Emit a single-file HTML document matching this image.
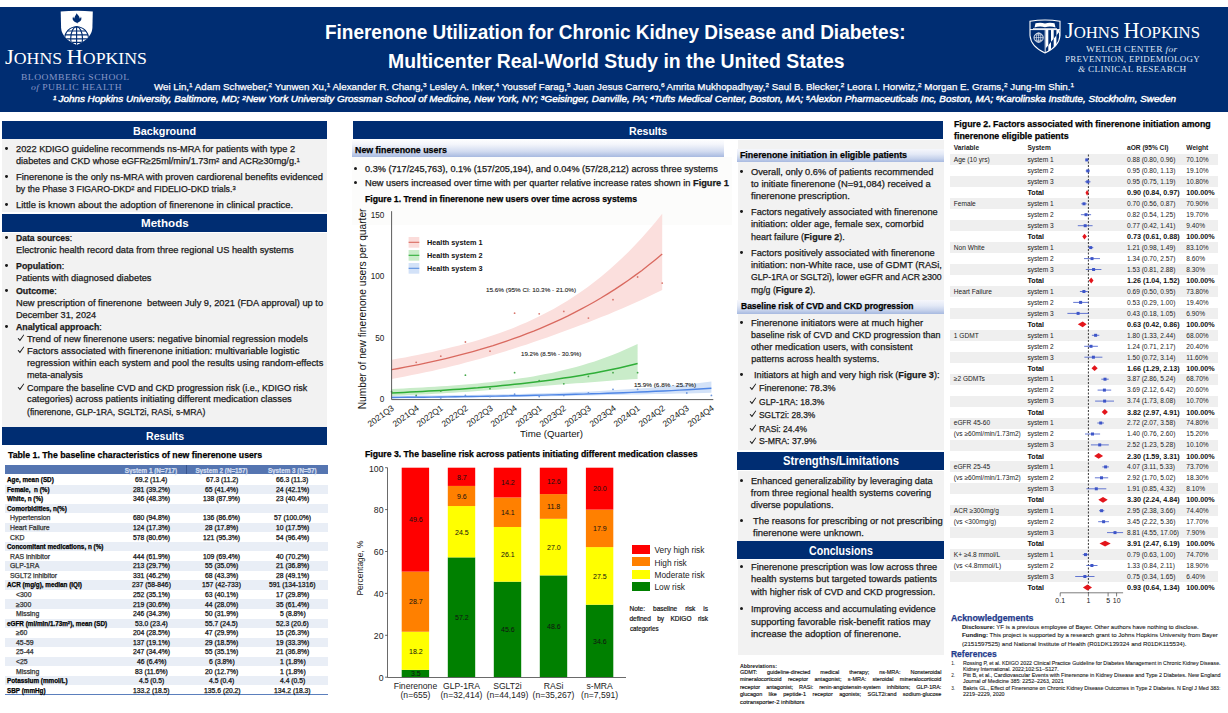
<!DOCTYPE html>
<html lang="en"><head><meta charset="utf-8"><title>Finerenone Utilization Poster</title>
<style>
html,body{margin:0;padding:0;background:#fff;}
#p{position:relative;width:1228px;height:713px;overflow:hidden;background:#fff;font-family:"Liberation Sans", sans-serif;color:#1a1a1a;}
#p>div,#p>svg{position:absolute;}
.t{white-space:nowrap;line-height:1;transform-origin:0 0;-webkit-text-stroke:0.25px;}
.s{font-family:"Liberation Serif", serif;-webkit-text-stroke:0;}
.n{-webkit-text-stroke:0;}
sup{font-size:66%;line-height:0;vertical-align:baseline;position:relative;top:-0.45em;}
b{font-weight:bold;}
</style></head><body>
<div id="p">
<div style="left:0.0px;top:7.0px;width:1228.0px;height:104.5px;background:#002d72;"></div>
<svg style="left:59px;top:9px" width="36" height="38" viewBox="0 0 36 38">
<defs><clipPath id="shl"><path d="M1.7 2.6 Q17.7 0.9 33.8 2.6 L33.4 19 Q32.6 29.5 17.7 36 Q2.9 29.5 2.1 19 Z"/></clipPath></defs>
<path d="M1.7 2.6 Q17.7 0.9 33.8 2.6 L33.4 19 Q32.6 29.5 17.7 36 Q2.9 29.5 2.1 19 Z" fill="#fff"/>
<g clip-path="url(#shl)" fill="none" stroke="#002d72" stroke-width="1.15">
<circle cx="17.6" cy="29.6" r="11.9"/>
<ellipse cx="17.6" cy="29.6" rx="5.9" ry="11.9"/>
<path d="M17.6 17.5 V37"/>
<path d="M8.4 22 H26.8 M6.2 25.8 H29 M5.6 29.8 H29.600 M6.4 33.4 H28.800"/>
</g>
<path d="M17.6 4.2 C18.6 6 20.9 7.2 20.6 9.6 C21.5 9 21.9 8.2 21.9 7.4 C23 9.4 22.4 12 20 13 C19.3 13.3 18.6 13.3 18.3 14.6 C17.9 13.4 16.9 13.3 15.9 12.9 C13.6 12 13 9.6 14.2 7.6 C14.3 8.6 14.7 9.2 15.4 9.6 C15.2 7.4 16.9 6.3 17.6 4.2 Z" fill="#002d72"/>
</svg>
<svg style="left:1027px;top:18px" width="36" height="38" viewBox="0 0 36 38">
<defs><clipPath id="shr"><path d="M3 3.2 Q18 0.8 33 3.2 L33 17.5 Q32.2 28.5 18 35 Q3.8 28.5 3 17.5 Z"/></clipPath></defs>
<path d="M3 3.2 Q18 0.8 33 3.2 L33 17.5 Q32.2 28.5 18 35 Q3.8 28.5 3 17.5 Z" fill="#002d72" stroke="#fff" stroke-width="1.1"/>
<g clip-path="url(#shr)">
<path d="M3 11.6 H33" stroke="#fff" stroke-width="1"/>
<path d="M7.5 9.6 Q12.5 7.6 18 9.2 Q23.5 7.6 28.5 9.6 L27.5 5.2 Q22.5 4 18 5.4 Q13.500 4 8.5 5.2 Z" fill="#fff"/>
<path d="M6 10.6 H30" stroke="#fff" stroke-width="0.8"/>
<circle cx="11.6" cy="19.6" r="4.6" fill="none" stroke="#fff" stroke-width="0.9"/>
<path d="M7 19.6 H16.2 M11.6 15 V24.2 M8 17 H15.2 M8 22.2 H15.2" stroke="#fff" stroke-width="0.6"/>
<ellipse cx="11.6" cy="19.6" rx="2.2" ry="4.6" fill="none" stroke="#fff" stroke-width="0.6"/>
<path d="M18.2 11.6 V35" stroke="#fff" stroke-width="0.9"/>
<clipPath id="fa"><path d="M18.2 11.6 H33 V13 L18.2 31 Z"/></clipPath><clipPath id="fb"><path d="M33 13 V36 H18.2 V31 Z"/></clipPath><g fill="#fff"><g clip-path="url(#fa)"><path d="M18.7 11 h2.6 v26 h-2.6z M24 11 h2.700 v26 h-2.700z M29.4 11 h2.700 v26 h-2.700z"/></g><g clip-path="url(#fb)"><path d="M21.3 11 h2.700 v26 h-2.700z M26.7 11 h2.700 v26 h-2.700z M32.1 11 h2 v26 h-2z"/></g></g>
</g>
</svg>
<div style="left:2.2px;top:139.4px;width:324.5px;height:72.8px;background:#f2f2f2;"></div>
<div style="left:2.2px;top:232.6px;width:324.5px;height:194.6px;background:#f2f2f2;"></div>
<div style="left:2.2px;top:121.1px;width:324.5px;height:17.5px;background:#002d72;"></div>
<div style="left:2.2px;top:214.0px;width:324.5px;height:17.7px;background:#002d72;"></div>
<div style="left:2.2px;top:427.0px;width:324.5px;height:17.9px;background:#002d72;"></div>
<div style="left:5.0px;top:147.1px;width:2.9px;height:2.9px;border-radius:50%;background:#1a1a1a"></div>
<div style="left:5.0px;top:174.8px;width:2.9px;height:2.9px;border-radius:50%;background:#1a1a1a"></div>
<div style="left:5.0px;top:203.2px;width:2.9px;height:2.9px;border-radius:50%;background:#1a1a1a"></div>
<div style="left:5.0px;top:236.1px;width:2.9px;height:2.9px;border-radius:50%;background:#1a1a1a"></div>
<div style="left:5.0px;top:264.1px;width:2.9px;height:2.9px;border-radius:50%;background:#1a1a1a"></div>
<div style="left:5.0px;top:288.9px;width:2.9px;height:2.9px;border-radius:50%;background:#1a1a1a"></div>
<div style="left:5.0px;top:324.9px;width:2.9px;height:2.9px;border-radius:50%;background:#1a1a1a"></div>
<svg style="left:16.6px;top:334.2px" width="8.0" height="8.0" viewBox="0 0 8 8"><path d="M0.6 4.6 L1.5 3.9 L2.9 5.6 L6.6 0.6 L7.2 1 L3 7.2 Z" fill="#1a1a1a"/></svg>
<svg style="left:16.6px;top:346.3px" width="8.0" height="8.0" viewBox="0 0 8 8"><path d="M0.6 4.6 L1.5 3.9 L2.9 5.6 L6.6 0.6 L7.2 1 L3 7.2 Z" fill="#1a1a1a"/></svg>
<svg style="left:16.6px;top:383.2px" width="8.0" height="8.0" viewBox="0 0 8 8"><path d="M0.6 4.6 L1.5 3.9 L2.9 5.6 L6.6 0.6 L7.2 1 L3 7.2 Z" fill="#1a1a1a"/></svg>
<div style="left:5.0px;top:465.1px;width:323.0px;height:8.9px;background:#5575b1;"></div>
<div style="left:186.1px;top:465.1px;width:0.7px;height:8.9px;background:#38558f;"></div>
<div style="left:5.0px;top:484.5px;width:323.0px;height:9.6px;background:#e9eef6;"></div>
<div style="left:5.0px;top:503.6px;width:323.0px;height:9.6px;background:#e9eef6;"></div>
<div style="left:5.0px;top:522.8px;width:323.0px;height:9.6px;background:#e9eef6;"></div>
<div style="left:5.0px;top:541.9px;width:323.0px;height:9.6px;background:#e9eef6;"></div>
<div style="left:5.0px;top:561.1px;width:323.0px;height:9.6px;background:#e9eef6;"></div>
<div style="left:5.0px;top:580.2px;width:323.0px;height:9.6px;background:#e9eef6;"></div>
<div style="left:5.0px;top:599.4px;width:323.0px;height:9.6px;background:#e9eef6;"></div>
<div style="left:5.0px;top:618.5px;width:323.0px;height:9.6px;background:#e9eef6;"></div>
<div style="left:5.0px;top:637.7px;width:323.0px;height:9.6px;background:#e9eef6;"></div>
<div style="left:5.0px;top:656.8px;width:323.0px;height:9.6px;background:#e9eef6;"></div>
<div style="left:5.0px;top:675.9px;width:323.0px;height:9.6px;background:#e9eef6;"></div>
<div style="left:5.0px;top:694.0px;width:323.0px;height:0.9px;background:#5b7fbd;"></div>
<div style="left:353.1px;top:121.0px;width:590.3px;height:17.7px;background:#002d72;"></div>
<div style="left:352.2px;top:156.7px;width:379.8px;height:68.7px;background:#fcfcfb;"></div>
<div style="left:352.2px;top:139.4px;width:371.6px;height:17.4px;background:linear-gradient(#ffffff,#f3f5fb 30%,#d3dcf0 68%,#a7b9e0)"></div>
<div style="left:354.4px;top:166.8px;width:3.0px;height:3.0px;border-radius:50%;background:#1a1a1a"></div>
<div style="left:354.4px;top:181.1px;width:3.0px;height:3.0px;border-radius:50%;background:#1a1a1a"></div>
<svg style="left:345px;top:200px" width="400" height="250" viewBox="0 0 400 250"><polygon points="46.6,159.8 53.4,158.6 60.1,157.4 66.9,156.1 73.7,154.7 80.4,153.3 87.2,151.9 94.0,150.3 100.7,148.8 107.5,147.1 114.2,145.4 121.0,143.6 127.8,141.7 134.5,139.7 141.3,137.6 148.1,135.3 154.8,133.0 161.6,130.5 168.4,127.9 175.1,125.1 181.9,122.2 188.7,119.1 195.4,115.8 202.2,112.3 209.0,108.7 215.7,104.8 222.5,100.7 229.3,96.3 236.0,91.7 242.8,86.9 249.6,81.8 256.3,76.4 263.1,70.8 269.8,64.8 276.6,58.5 283.4,51.9 290.1,45.0 296.9,37.7 303.7,30.1 310.4,22.2 317.2,13.8 317.2,89.9 310.4,93.3 303.7,96.5 296.9,99.7 290.1,102.8 283.4,105.8 276.6,108.7 269.8,111.5 263.1,114.4 256.3,117.1 249.6,119.8 242.8,122.5 236.0,125.1 229.3,127.6 222.5,130.1 215.7,132.6 209.0,135.1 202.2,137.5 195.4,139.8 188.7,142.1 181.9,144.4 175.1,146.6 168.4,148.8 161.6,150.9 154.8,153.0 148.1,155.0 141.3,157.0 134.5,158.9 127.8,160.8 121.0,162.6 114.2,164.4 107.5,166.1 100.7,167.7 94.0,169.3 87.2,170.9 80.4,172.3 73.7,173.8 66.9,175.1 60.1,176.4 53.4,177.7 46.6,178.9" fill="#fbdfdd"/><polygon points="46.6,189.0 52.8,188.7 58.9,188.4 65.1,188.1 71.2,187.8 77.4,187.4 83.5,187.1 89.7,186.7 95.8,186.3 102.0,185.9 108.1,185.4 114.2,185.0 120.4,184.5 126.6,184.0 132.7,183.4 138.9,182.8 145.0,182.2 151.2,181.5 157.3,180.8 163.5,180.1 169.6,179.2 175.8,178.3 181.9,177.4 188.1,176.4 194.2,175.3 200.4,174.1 206.5,172.9 212.7,171.5 218.8,170.1 225.0,168.6 231.1,166.9 237.2,165.2 243.4,163.3 249.6,161.4 255.7,159.3 261.9,157.1 268.0,154.7 274.2,152.2 280.3,149.6 286.5,146.8 292.6,143.9 292.6,178.9 286.5,179.3 280.3,179.7 274.2,180.1 268.0,180.6 261.9,181.0 255.7,181.5 249.6,181.9 243.4,182.4 237.2,182.9 231.1,183.3 225.0,183.8 218.8,184.3 212.7,184.8 206.5,185.3 200.4,185.8 194.2,186.3 188.1,186.8 181.9,187.3 175.8,187.7 169.6,188.2 163.5,188.7 157.3,189.2 151.2,189.7 145.0,190.1 138.9,190.6 132.7,191.0 126.6,191.5 120.4,191.9 114.2,192.3 108.1,192.7 102.0,193.1 95.8,193.5 89.7,193.8 83.5,194.2 77.4,194.5 71.2,194.8 65.1,195.1 58.9,195.4 52.8,195.7 46.6,195.9" fill="#c9ecc9"/><polygon points="46.6,195.9 54.6,195.8 62.6,195.7 70.6,195.6 78.6,195.6 86.6,195.5 94.6,195.4 102.6,195.3 110.6,195.1 118.6,195.0 126.6,194.9 134.5,194.8 142.5,194.6 150.5,194.5 158.5,194.3 166.5,194.1 174.5,193.9 182.5,193.7 190.5,193.5 198.5,193.3 206.5,193.0 214.5,192.7 222.5,192.4 230.5,192.1 238.5,191.8 246.5,191.4 254.5,191.0 262.5,190.5 270.5,190.1 278.5,189.6 286.5,189.0 294.4,188.5 302.4,187.9 310.4,187.2 318.4,186.6 326.4,185.8 334.4,185.1 342.4,184.3 350.4,183.4 358.4,182.5 366.4,181.6 366.4,192.8 358.4,193.0 350.4,193.2 342.4,193.4 334.4,193.6 326.4,193.8 318.4,194.0 310.4,194.1 302.4,194.3 294.4,194.5 286.5,194.6 278.5,194.8 270.5,195.0 262.5,195.1 254.5,195.3 246.5,195.4 238.5,195.6 230.5,195.8 222.5,195.9 214.5,196.1 206.5,196.2 198.5,196.4 190.5,196.5 182.5,196.7 174.5,196.8 166.5,196.9 158.5,197.1 150.5,197.2 142.5,197.3 134.5,197.4 126.6,197.6 118.6,197.7 110.6,197.8 102.6,197.9 94.6,198.0 86.6,198.1 78.6,198.2 70.6,198.3 62.6,198.3 54.6,198.4 46.6,198.5" fill="#d3e2f8"/><polyline points="46.6,169.7 53.4,168.5 60.1,167.2 66.9,165.9 73.7,164.6 80.4,163.2 87.2,161.7 94.0,160.2 100.7,158.6 107.5,156.9 114.2,155.2 121.0,153.4 127.8,151.6 134.5,149.7 141.3,147.6 148.1,145.6 154.8,143.4 161.6,141.1 168.4,138.7 175.1,136.3 181.9,133.7 188.7,131.1 195.4,128.3 202.2,125.4 209.0,122.4 215.7,119.3 222.5,116.1 229.3,112.7 236.0,109.2 242.8,105.5 249.6,101.7 256.3,97.8 263.1,93.6 269.8,89.4 276.6,84.9 283.4,80.2 290.1,75.4 296.9,70.4 303.7,65.1 310.4,59.7 317.2,54.0" fill="none" stroke="#d9695f" stroke-width="1.3"/><polyline points="46.6,193.0 52.8,192.7 58.9,192.4 65.1,192.1 71.2,191.8 77.4,191.5 83.5,191.1 89.7,190.8 95.8,190.4 102.0,190.0 108.1,189.6 114.2,189.2 120.4,188.7 126.6,188.2 132.7,187.8 138.9,187.2 145.0,186.7 151.2,186.2 157.3,185.6 163.5,185.0 169.6,184.3 175.8,183.7 181.9,183.0 188.1,182.3 194.2,181.5 200.4,180.7 206.5,179.9 212.7,179.0 218.8,178.1 225.0,177.2 231.1,176.2 237.2,175.2 243.4,174.1 249.6,173.0 255.7,171.8 261.9,170.6 268.0,169.3 274.2,168.0 280.3,166.6 286.5,165.1 292.6,163.6" fill="none" stroke="#2fae38" stroke-width="1.5"/><polyline points="46.6,197.5 54.6,197.4 62.6,197.3 70.6,197.3 78.6,197.2 86.6,197.1 94.6,197.0 102.6,196.9 110.6,196.8 118.6,196.6 126.6,196.5 134.5,196.4 142.5,196.3 150.5,196.1 158.5,196.0 166.5,195.8 174.5,195.7 182.5,195.5 190.5,195.3 198.5,195.1 206.5,194.9 214.5,194.7 222.5,194.5 230.5,194.3 238.5,194.1 246.5,193.8 254.5,193.6 262.5,193.3 270.5,193.0 278.5,192.7 286.5,192.4 294.4,192.0 302.4,191.7 310.4,191.3 318.4,191.0 326.4,190.6 334.4,190.1 342.4,189.7 350.4,189.2 358.4,188.7 366.4,188.2" fill="none" stroke="#4f86e6" stroke-width="1.4"/><circle cx="71.2" cy="162.3" r="0.9" fill="#d9776e"/><circle cx="95.8" cy="156.2" r="0.9" fill="#d9776e"/><circle cx="120.4" cy="142.0" r="0.9" fill="#d9776e"/><circle cx="145.0" cy="151.2" r="0.9" fill="#d9776e"/><circle cx="169.6" cy="113.2" r="0.9" fill="#d9776e"/><circle cx="194.2" cy="113.8" r="0.9" fill="#d9776e"/><circle cx="218.8" cy="111.4" r="0.9" fill="#d9776e"/><circle cx="243.4" cy="118.1" r="0.9" fill="#d9776e"/><circle cx="268.0" cy="99.7" r="0.9" fill="#d9776e"/><circle cx="292.6" cy="77.0" r="0.9" fill="#d9776e"/><circle cx="317.2" cy="83.1" r="0.9" fill="#d9776e"/><circle cx="46.6" cy="191.7" r="0.9" fill="#45a84a"/><circle cx="71.2" cy="195.4" r="0.9" fill="#45a84a"/><circle cx="95.8" cy="191.1" r="0.9" fill="#45a84a"/><circle cx="120.4" cy="175.2" r="0.9" fill="#45a84a"/><circle cx="145.0" cy="188.7" r="0.9" fill="#45a84a"/><circle cx="169.6" cy="172.7" r="0.9" fill="#45a84a"/><circle cx="194.2" cy="180.7" r="0.9" fill="#45a84a"/><circle cx="218.8" cy="183.8" r="0.9" fill="#45a84a"/><circle cx="243.4" cy="176.4" r="0.9" fill="#45a84a"/><circle cx="268.0" cy="172.7" r="0.9" fill="#45a84a"/><circle cx="292.6" cy="172.7" r="0.9" fill="#45a84a"/><circle cx="71.2" cy="196.6" r="0.9" fill="#6f97dc"/><circle cx="95.8" cy="197.9" r="0.9" fill="#6f97dc"/><circle cx="120.4" cy="195.4" r="0.9" fill="#6f97dc"/><circle cx="145.0" cy="196.6" r="0.9" fill="#6f97dc"/><circle cx="169.6" cy="194.2" r="0.9" fill="#6f97dc"/><circle cx="194.2" cy="196.6" r="0.9" fill="#6f97dc"/><circle cx="218.8" cy="195.4" r="0.9" fill="#6f97dc"/><circle cx="243.4" cy="193.0" r="0.9" fill="#6f97dc"/><circle cx="268.0" cy="189.3" r="0.9" fill="#6f97dc"/><circle cx="292.6" cy="189.3" r="0.9" fill="#6f97dc"/><circle cx="341.8" cy="193.0" r="0.9" fill="#6f97dc"/><circle cx="366.4" cy="195.4" r="0.9" fill="#6f97dc"/><path d="M46.6 11.2 V199.6 H368.3" fill="none" stroke="#4a4a4a" stroke-width="0.9"/><rect x="63.6" y="37.0" width="10.7" height="10.7" fill="#fbdcda"/><path d="M63.600 42.3 h10.700" stroke="#d9695f" stroke-width="1.1"/><rect x="63.6" y="50.0" width="10.7" height="10.7" fill="#c9ecc9"/><path d="M63.600 55.3 h10.700" stroke="#2fae38" stroke-width="1.1"/><rect x="63.6" y="63.0" width="10.7" height="10.7" fill="#d3e2f8"/><path d="M63.600 68.3 h10.700" stroke="#5b8fe0" stroke-width="1.1"/></svg>
<div style="left:363.2px;top:403.0px;width:30px;height:9px;font-size:8.5px;line-height:9px;text-align:right;white-space:nowrap;color:#222;transform-origin:100% 50%;transform:rotate(-36deg)">2021Q3</div>
<div style="left:387.8px;top:403.0px;width:30px;height:9px;font-size:8.5px;line-height:9px;text-align:right;white-space:nowrap;color:#222;transform-origin:100% 50%;transform:rotate(-36deg)">2021Q4</div>
<div style="left:412.4px;top:403.0px;width:30px;height:9px;font-size:8.5px;line-height:9px;text-align:right;white-space:nowrap;color:#222;transform-origin:100% 50%;transform:rotate(-36deg)">2022Q1</div>
<div style="left:437.0px;top:403.0px;width:30px;height:9px;font-size:8.5px;line-height:9px;text-align:right;white-space:nowrap;color:#222;transform-origin:100% 50%;transform:rotate(-36deg)">2022Q2</div>
<div style="left:461.6px;top:403.0px;width:30px;height:9px;font-size:8.5px;line-height:9px;text-align:right;white-space:nowrap;color:#222;transform-origin:100% 50%;transform:rotate(-36deg)">2022Q3</div>
<div style="left:486.2px;top:403.0px;width:30px;height:9px;font-size:8.5px;line-height:9px;text-align:right;white-space:nowrap;color:#222;transform-origin:100% 50%;transform:rotate(-36deg)">2022Q4</div>
<div style="left:510.8px;top:403.0px;width:30px;height:9px;font-size:8.5px;line-height:9px;text-align:right;white-space:nowrap;color:#222;transform-origin:100% 50%;transform:rotate(-36deg)">2023Q1</div>
<div style="left:535.4px;top:403.0px;width:30px;height:9px;font-size:8.5px;line-height:9px;text-align:right;white-space:nowrap;color:#222;transform-origin:100% 50%;transform:rotate(-36deg)">2023Q2</div>
<div style="left:560.0px;top:403.0px;width:30px;height:9px;font-size:8.5px;line-height:9px;text-align:right;white-space:nowrap;color:#222;transform-origin:100% 50%;transform:rotate(-36deg)">2023Q3</div>
<div style="left:584.6px;top:403.0px;width:30px;height:9px;font-size:8.5px;line-height:9px;text-align:right;white-space:nowrap;color:#222;transform-origin:100% 50%;transform:rotate(-36deg)">2023Q4</div>
<div style="left:609.2px;top:403.0px;width:30px;height:9px;font-size:8.5px;line-height:9px;text-align:right;white-space:nowrap;color:#222;transform-origin:100% 50%;transform:rotate(-36deg)">2024Q1</div>
<div style="left:633.8px;top:403.0px;width:30px;height:9px;font-size:8.5px;line-height:9px;text-align:right;white-space:nowrap;color:#222;transform-origin:100% 50%;transform:rotate(-36deg)">2024Q2</div>
<div style="left:658.4px;top:403.0px;width:30px;height:9px;font-size:8.5px;line-height:9px;text-align:right;white-space:nowrap;color:#222;transform-origin:100% 50%;transform:rotate(-36deg)">2024Q3</div>
<div style="left:683.0px;top:403.0px;width:30px;height:9px;font-size:8.5px;line-height:9px;text-align:right;white-space:nowrap;color:#222;transform-origin:100% 50%;transform:rotate(-36deg)">2024Q4</div>
<div style="left:212.3px;top:303.4px;width:300px;height:12px;font-size:11.2px;line-height:12px;text-align:center;white-space:nowrap;color:#111;transform:rotate(-90deg)"><span style="display:inline-block;transform:scaleX(0.912)">Number of new finerenone users per quarter</span></div>
<svg style="left:345px;top:455px" width="300" height="240" viewBox="0 0 300 240"><rect x="56.7" y="214.87" width="27.4" height="7.33" fill="#008000"/><rect x="56.7" y="176.74" width="27.4" height="38.13" fill="#ffff00"/><rect x="56.7" y="116.61" width="27.4" height="60.13" fill="#ff8000"/><rect x="56.7" y="12.70" width="27.4" height="103.91" fill="#ff0000"/><rect x="102.8" y="102.37" width="27.4" height="119.83" fill="#008000"/><rect x="102.8" y="51.04" width="27.4" height="51.33" fill="#ffff00"/><rect x="102.8" y="30.93" width="27.4" height="20.11" fill="#ff8000"/><rect x="102.8" y="12.70" width="27.4" height="18.23" fill="#ff0000"/><rect x="148.8" y="126.67" width="27.4" height="95.53" fill="#008000"/><rect x="148.8" y="71.99" width="27.4" height="54.68" fill="#ffff00"/><rect x="148.8" y="42.45" width="27.4" height="29.54" fill="#ff8000"/><rect x="148.8" y="12.70" width="27.4" height="29.75" fill="#ff0000"/><rect x="194.8" y="120.38" width="27.4" height="101.82" fill="#008000"/><rect x="194.8" y="63.82" width="27.4" height="56.57" fill="#ffff00"/><rect x="194.8" y="39.10" width="27.4" height="24.72" fill="#ff8000"/><rect x="194.8" y="12.70" width="27.4" height="26.40" fill="#ff0000"/><rect x="240.9" y="149.71" width="27.4" height="72.49" fill="#008000"/><rect x="240.9" y="92.10" width="27.4" height="57.61" fill="#ffff00"/><rect x="240.9" y="54.60" width="27.4" height="37.50" fill="#ff8000"/><rect x="240.9" y="12.70" width="27.4" height="41.90" fill="#ff0000"/><path d="M42.5 12.7 V222.5 H281 M40.1 222.2 h2.4 M40.1 180.3 h2.4 M40.1 138.4 h2.4 M40.1 96.5 h2.4 M40.1 54.6 h2.4 M40.1 12.7 h2.4" stroke="#444" stroke-width="0.8" fill="none"/></svg>
<div style="left:310px;top:562px;width:100px;height:12px;font-size:8.4px;line-height:12px;text-align:center;white-space:nowrap;color:#222;transform:rotate(-90deg)">Percentage, %</div>
<div style="left:631.9px;top:545.1px;width:17.9px;height:9.1px;background:#ff0000;"></div>
<div style="left:631.9px;top:557.4px;width:17.9px;height:9.1px;background:#ff8000;"></div>
<div style="left:631.9px;top:569.7px;width:17.9px;height:9.1px;background:#ffff00;"></div>
<div style="left:631.9px;top:582.0px;width:17.9px;height:9.1px;background:#008000;"></div>
<div style="left:629.5px;top:604.4px;width:78.5px;font-size:6.5px;line-height:9.6px;color:#111;-webkit-text-stroke:0.2px;text-align:justify;text-align-last:justify;white-space:nowrap;">Note: baseline risk is</div>
<div style="left:629.5px;top:614.3px;width:78.5px;font-size:6.5px;line-height:9.6px;color:#111;-webkit-text-stroke:0.2px;text-align:justify;text-align-last:justify;white-space:nowrap;">defined by KDIGO risk</div>
<div style="left:737.7px;top:139.6px;width:206.7px;height:310.8px;background:#f2f2f2;"></div>
<div style="left:737.7px;top:470.7px;width:206.7px;height:70.3px;background:#f2f2f2;"></div>
<div style="left:737.7px;top:559.6px;width:206.7px;height:95.9px;background:#f2f2f2;"></div>
<div style="left:737.3px;top:148.6px;width:206.7px;height:13.9px;background:linear-gradient(#f6f7fc,#e3e9f6 40%,#c5d1eb 75%,#a7b9e0)"></div>
<div style="left:740.4px;top:170.1px;width:2.9px;height:2.9px;border-radius:50%;background:#1a1a1a"></div>
<div style="left:740.4px;top:210.2px;width:2.9px;height:2.9px;border-radius:50%;background:#1a1a1a"></div>
<div style="left:740.4px;top:251.0px;width:2.9px;height:2.9px;border-radius:50%;background:#1a1a1a"></div>
<div style="left:737.3px;top:300px;width:206.7px;height:13.6px;background:linear-gradient(#f6f7fc,#e3e9f6 40%,#c5d1eb 75%,#a7b9e0)"></div>
<div style="left:740.4px;top:321.1px;width:2.9px;height:2.9px;border-radius:50%;background:#1a1a1a"></div>
<div style="left:740.4px;top:373.2px;width:2.9px;height:2.9px;border-radius:50%;background:#1a1a1a"></div>
<svg style="left:749.3px;top:383.3px" width="8.0" height="8.0" viewBox="0 0 8 8"><path d="M0.6 4.6 L1.5 3.9 L2.9 5.6 L6.6 0.6 L7.2 1 L3 7.2 Z" fill="#1a1a1a"/></svg>
<svg style="left:749.3px;top:397.3px" width="8.0" height="8.0" viewBox="0 0 8 8"><path d="M0.6 4.6 L1.5 3.9 L2.9 5.6 L6.6 0.6 L7.2 1 L3 7.2 Z" fill="#1a1a1a"/></svg>
<svg style="left:749.3px;top:410.3px" width="8.0" height="8.0" viewBox="0 0 8 8"><path d="M0.6 4.6 L1.5 3.9 L2.9 5.6 L6.6 0.6 L7.2 1 L3 7.2 Z" fill="#1a1a1a"/></svg>
<svg style="left:749.3px;top:424.0px" width="8.0" height="8.0" viewBox="0 0 8 8"><path d="M0.6 4.6 L1.5 3.9 L2.9 5.6 L6.6 0.6 L7.2 1 L3 7.2 Z" fill="#1a1a1a"/></svg>
<svg style="left:749.3px;top:436.9px" width="8.0" height="8.0" viewBox="0 0 8 8"><path d="M0.6 4.6 L1.5 3.9 L2.9 5.6 L6.6 0.6 L7.2 1 L3 7.2 Z" fill="#1a1a1a"/></svg>
<div style="left:737.3px;top:452.1px;width:206.7px;height:17.6px;background:#002d72;"></div>
<div style="left:740.1px;top:478.9px;width:3.0px;height:3.0px;border-radius:50%;background:#1a1a1a"></div>
<div style="left:740.1px;top:519.1px;width:3.0px;height:3.0px;border-radius:50%;background:#1a1a1a"></div>
<div style="left:737.3px;top:541.0px;width:206.7px;height:17.7px;background:#002d72;"></div>
<div style="left:740.1px;top:565.0px;width:3.0px;height:3.0px;border-radius:50%;background:#1a1a1a"></div>
<div style="left:740.1px;top:607.4px;width:3.0px;height:3.0px;border-radius:50%;background:#1a1a1a"></div>
<div style="left:739.9px;top:669.4px;width:201.5px;font-size:5.5px;line-height:7.2px;color:#111;-webkit-text-stroke:0.15px;text-align:justify;text-align-last:justify;white-space:nowrap;">GDMT: guideline-directed medical therapy; ns-MRA: Nonsteroidal</div>
<div style="left:739.9px;top:676.4px;width:201.5px;font-size:5.5px;line-height:7.2px;color:#111;-webkit-text-stroke:0.15px;text-align:justify;text-align-last:justify;white-space:nowrap;">mineralocorticoid receptor antagonist; s-MRA: steroidal mineralocorticoid</div>
<div style="left:739.9px;top:684.4px;width:201.5px;font-size:5.5px;line-height:7.2px;color:#111;-webkit-text-stroke:0.15px;text-align:justify;text-align-last:justify;white-space:nowrap;">receptor antagonist; RASi: renin-angiotensin-system inhibitors; GLP-1RA:</div>
<div style="left:739.9px;top:691.4px;width:201.5px;font-size:5.5px;line-height:7.2px;color:#111;-webkit-text-stroke:0.15px;text-align:justify;text-align-last:justify;white-space:nowrap;">glucagon like peptide-1 receptor agonists; SGLT2i:and sodium-glucose</div>
<div style="left:950.3px;top:154.4px;width:268.2px;height:11.0px;background:#efefef;"></div>
<div style="left:950.3px;top:176.3px;width:268.2px;height:11.0px;background:#efefef;"></div>
<div style="left:950.3px;top:198.3px;width:268.2px;height:11.0px;background:#efefef;"></div>
<div style="left:950.3px;top:220.2px;width:268.2px;height:11.0px;background:#efefef;"></div>
<div style="left:950.3px;top:242.1px;width:268.2px;height:11.0px;background:#efefef;"></div>
<div style="left:950.3px;top:264.0px;width:268.2px;height:11.0px;background:#efefef;"></div>
<div style="left:950.3px;top:286.0px;width:268.2px;height:11.0px;background:#efefef;"></div>
<div style="left:950.3px;top:307.9px;width:268.2px;height:11.0px;background:#efefef;"></div>
<div style="left:950.3px;top:329.8px;width:268.2px;height:11.0px;background:#efefef;"></div>
<div style="left:950.3px;top:351.8px;width:268.2px;height:11.0px;background:#efefef;"></div>
<div style="left:950.3px;top:373.7px;width:268.2px;height:11.0px;background:#efefef;"></div>
<div style="left:950.3px;top:395.6px;width:268.2px;height:11.0px;background:#efefef;"></div>
<div style="left:950.3px;top:417.5px;width:268.2px;height:11.0px;background:#efefef;"></div>
<div style="left:950.3px;top:439.5px;width:268.2px;height:11.0px;background:#efefef;"></div>
<div style="left:950.3px;top:461.4px;width:268.2px;height:11.0px;background:#efefef;"></div>
<div style="left:950.3px;top:483.3px;width:268.2px;height:11.0px;background:#efefef;"></div>
<div style="left:950.3px;top:505.2px;width:268.2px;height:11.0px;background:#efefef;"></div>
<div style="left:950.3px;top:527.2px;width:268.2px;height:11.0px;background:#efefef;"></div>
<div style="left:950.3px;top:549.1px;width:268.2px;height:11.0px;background:#efefef;"></div>
<div style="left:950.3px;top:571.0px;width:268.2px;height:11.0px;background:#efefef;"></div>
<svg style="left:945px;top:150px" width="283" height="460" viewBox="0 0 283 460"><path d="M143.4 4.5 V442.8" stroke="#222" stroke-width="0.9" stroke-dasharray="2 1.5" fill="none"/><path d="M140.7 9.9 H142.9" stroke="#3d55c8" stroke-width="0.8"/><rect x="140.3" y="8.4" width="3" height="3" fill="#3d55c8"/><path d="M140.7 20.9 H144.9" stroke="#3d55c8" stroke-width="0.8"/><rect x="141.3" y="19.4" width="3" height="3" fill="#3d55c8"/><path d="M139.9 31.8 H145.5" stroke="#3d55c8" stroke-width="0.8"/><rect x="141.3" y="30.3" width="3" height="3" fill="#3d55c8"/><polygon points="140.5,42.8 142.1,39.9 143.7,42.8 142.1,45.7" fill="#e3151b"/><path d="M136.3 53.8 H141.7" stroke="#3d55c8" stroke-width="0.8"/><rect x="137.5" y="52.3" width="3" height="3" fill="#3d55c8"/><path d="M135.9 64.7 H146.1" stroke="#3d55c8" stroke-width="0.8"/><rect x="139.5" y="63.2" width="3" height="3" fill="#3d55c8"/><path d="M132.8 75.7 H147.6" stroke="#3d55c8" stroke-width="0.8"/><rect x="138.7" y="74.2" width="3" height="3" fill="#3d55c8"/><polygon points="137.3,86.6 139.5,83.7 141.8,86.6 139.5,89.5" fill="#e3151b"/><path d="M143.2 97.6 H148.3" stroke="#3d55c8" stroke-width="0.8"/><rect x="144.2" y="96.1" width="3" height="3" fill="#3d55c8"/><path d="M139.0 108.6 H155.0" stroke="#3d55c8" stroke-width="0.8"/><rect x="145.5" y="107.1" width="3" height="3" fill="#3d55c8"/><path d="M140.8 119.5 H156.4" stroke="#3d55c8" stroke-width="0.8"/><rect x="147.1" y="118.0" width="3" height="3" fill="#3d55c8"/><polygon points="143.9,130.5 146.2,127.6 148.5,130.5 146.2,133.4" fill="#e3151b"/><path d="M134.9 141.5 H142.8" stroke="#3d55c8" stroke-width="0.8"/><rect x="137.4" y="140.0" width="3" height="3" fill="#3d55c8"/><path d="M128.2 152.4 H143.4" stroke="#3d55c8" stroke-width="0.8"/><rect x="134.1" y="150.9" width="3" height="3" fill="#3d55c8"/><path d="M122.4 163.4 H144.0" stroke="#3d55c8" stroke-width="0.8"/><rect x="131.6" y="161.9" width="3" height="3" fill="#3d55c8"/><polygon points="132.8,174.3 137.7,171.4 141.6,174.3 137.7,177.2" fill="#e3151b"/><path d="M146.9 185.3 H154.3" stroke="#3d55c8" stroke-width="0.8"/><rect x="149.1" y="183.8" width="3" height="3" fill="#3d55c8"/><path d="M139.2 196.3 H152.9" stroke="#3d55c8" stroke-width="0.8"/><rect x="144.5" y="194.8" width="3" height="3" fill="#3d55c8"/><path d="M139.4 207.2 H157.4" stroke="#3d55c8" stroke-width="0.8"/><rect x="146.9" y="205.7" width="3" height="3" fill="#3d55c8"/><polygon points="146.5,218.2 149.6,215.3 152.7,218.2 149.6,221.1" fill="#e3151b"/><path d="M156.3 229.2 H163.7" stroke="#3d55c8" stroke-width="0.8"/><rect x="158.5" y="227.7" width="3" height="3" fill="#3d55c8"/><path d="M152.6 240.1 H166.2" stroke="#3d55c8" stroke-width="0.8"/><rect x="157.9" y="238.6" width="3" height="3" fill="#3d55c8"/><path d="M150.1 251.1 H169.0" stroke="#3d55c8" stroke-width="0.8"/><rect x="158.1" y="249.6" width="3" height="3" fill="#3d55c8"/><polygon points="156.7,262.0 159.8,259.1 162.9,262.0 159.8,264.9" fill="#e3151b"/><path d="M152.3 273.0 H159.0" stroke="#3d55c8" stroke-width="0.8"/><rect x="154.2" y="271.5" width="3" height="3" fill="#3d55c8"/><path d="M140.0 284.0 H155.1" stroke="#3d55c8" stroke-width="0.8"/><rect x="146.0" y="282.5" width="3" height="3" fill="#3d55c8"/><path d="M145.9 294.9 H163.8" stroke="#3d55c8" stroke-width="0.8"/><rect x="153.2" y="293.4" width="3" height="3" fill="#3d55c8"/><polygon points="149.1,305.9 153.6,303.0 158.1,305.9 153.6,308.8" fill="#e3151b"/><path d="M157.3 316.9 H163.9" stroke="#3d55c8" stroke-width="0.8"/><rect x="159.1" y="315.4" width="3" height="3" fill="#3d55c8"/><path d="M149.9 327.8 H163.2" stroke="#3d55c8" stroke-width="0.8"/><rect x="155.0" y="326.3" width="3" height="3" fill="#3d55c8"/><path d="M141.4 338.8 H161.3" stroke="#3d55c8" stroke-width="0.8"/><rect x="149.8" y="337.3" width="3" height="3" fill="#3d55c8"/><polygon points="153.3,349.8 158.0,346.9 162.7,349.8 158.0,352.7" fill="#e3151b"/><path d="M154.0 360.7 H159.3" stroke="#3d55c8" stroke-width="0.8"/><rect x="155.1" y="359.2" width="3" height="3" fill="#3d55c8"/><path d="M153.2 371.7 H164.0" stroke="#3d55c8" stroke-width="0.8"/><rect x="157.1" y="370.2" width="3" height="3" fill="#3d55c8"/><path d="M162.0 382.6 H178.1" stroke="#3d55c8" stroke-width="0.8"/><rect x="168.5" y="381.1" width="3" height="3" fill="#3d55c8"/><polygon points="154.5,393.6 160.1,390.7 165.7,393.6 160.1,396.5" fill="#e3151b"/><path d="M137.7 404.6 H143.4" stroke="#3d55c8" stroke-width="0.8"/><rect x="139.0" y="403.1" width="3" height="3" fill="#3d55c8"/><path d="M141.3 415.5 H152.5" stroke="#3d55c8" stroke-width="0.8"/><rect x="145.4" y="414.0" width="3" height="3" fill="#3d55c8"/><path d="M130.2 426.5 H149.5" stroke="#3d55c8" stroke-width="0.8"/><rect x="138.4" y="425.0" width="3" height="3" fill="#3d55c8"/><polygon points="137.9,437.5 142.5,434.6 147.0,437.5 142.5,440.4" fill="#e3151b"/><path d="M115.2 442.8 H178.1 M115.2 442.8 v3.6 M143.4 442.8 v3.6 M163.1 442.8 v3.6 M171.6 442.8 v3.6" stroke="#444" stroke-width="0.7" fill="none"/></svg>
<div class="t n" style="left:325.0px;top:23.2px;font-size:19.6px;font-weight:bold;color:#fff;transform:scaleX(0.9677);">Finerenone Utilization for Chronic Kidney Disease and Diabetes:</div>
<div class="t n" style="left:387.5px;top:52.2px;font-size:19.6px;font-weight:bold;color:#fff;transform:scaleX(0.9897);">Multicenter Real-World Study in the United States</div>
<div class="t" style="left:154.0px;top:82.2px;font-size:9.4px;color:#fff;transform:scaleX(1.0404);">Wei Lin,<sup>1</sup> Adam Schweber,<sup>2</sup> Yunwen Xu,<sup>1</sup> Alexander R. Chang,<sup>3</sup> Lesley A. Inker,<sup>4</sup> Youssef Farag,<sup>5</sup> Juan Jesus Carrero,<sup>6 </sup>Amrita Mukhopadhyay,<sup>2</sup> Saul B. Blecker,<sup>2</sup> Leora I. Horwitz,<sup>2</sup> Morgan E. Grams,<sup>2</sup> Jung-Im Shin.<sup>1</sup></div>
<div class="t" style="left:52.5px;top:95.2px;font-size:9.0px;font-style:italic;color:#fff;-webkit-text-stroke:0.4px;transform:scaleX(1.0985);"><sup>1 </sup>Johns Hopkins University, Baltimore, MD; <sup>2</sup>New York University Grossman School of Medicine, New York, NY; <sup>3</sup>Geisinger, Danville, PA; <sup>4</sup>Tufts Medical Center, Boston, MA; <sup>5</sup>Alexion Pharmaceuticals Inc, Boston, MA; <sup>6</sup>Karolinska Institute, Stockholm, Sweden</div>
<div class="t s" style="left:5.3px;top:47.2px;font-size:21.2px;color:#fff;transform:scaleX(1.0683);">J<span style="font-size:16.6px">OHNS </span>H<span style="font-size:16.6px">OPKINS</span></div>
<div class="t s" style="left:21.3px;top:74.2px;font-size:8.1px;color:#8797c6;letter-spacing:0.4px;transform:scaleX(1.1853);">BLOOMBERG SCHOOL</div>
<div class="t s" style="left:30.9px;top:83.2px;font-size:8.4px;color:#8797c6;letter-spacing:0.4px;transform:scaleX(1.1415);"><i style="font-size:8.5px">of</i> PUBLIC HEALTH</div>
<div class="t s" style="left:1065.0px;top:19.2px;font-size:23px;color:#fff;transform:scaleX(0.9636);">J<span style="font-size:17.4px">OHNS </span>H<span style="font-size:17.4px">OPKINS</span></div>
<div class="t s" style="left:1086.3px;top:45.2px;font-size:9.0px;color:#dfe4f2;letter-spacing:0.3px;transform:scaleX(1.0542);">WELCH CENTER <i>for</i></div>
<div class="t s" style="left:1064.7px;top:55.2px;font-size:9.0px;color:#dfe4f2;letter-spacing:0.3px;transform:scaleX(0.9904);">PREVENTION, EPIDEMIOLOGY</div>
<div class="t s" style="left:1078.0px;top:65.2px;font-size:9.0px;color:#dfe4f2;letter-spacing:0.3px;transform:scaleX(1.0256);"><i>&amp;</i> CLINICAL RESEARCH</div>
<div class="t n" style="left:133.4px;top:126.2px;font-size:11.8px;font-weight:bold;color:#fff;transform:scaleX(0.9153);">Background</div>
<div class="t n" style="left:141.1px;top:218.2px;font-size:11.8px;font-weight:bold;color:#fff;transform:scaleX(0.9835);">Methods</div>
<div class="t n" style="left:146.2px;top:431.2px;font-size:11.8px;font-weight:bold;color:#fff;transform:scaleX(0.8962);">Results</div>
<div class="t" style="left:15.9px;top:145.2px;font-size:8.9px;transform:scaleX(1.0420);">2022 KDIGO guideline recommends ns-MRA for patients with type 2</div>
<div class="t" style="left:15.9px;top:157.2px;font-size:8.9px;transform:scaleX(1.0295);">diabetes and CKD whose eGFR≥25ml/min/1.73m<sup>2</sup> and ACR≥30mg/g.<sup>1</sup></div>
<div class="t" style="left:15.9px;top:173.2px;font-size:8.9px;transform:scaleX(1.0508);">Finerenone is the only ns-MRA with proven cardiorenal benefits evidenced</div>
<div class="t" style="left:15.9px;top:185.2px;font-size:8.9px;transform:scaleX(0.9823);">by the Phase 3 FIGARO-DKD<sup>2</sup> and FIDELIO-DKD trials.<sup>3</sup></div>
<div class="t" style="left:15.9px;top:201.2px;font-size:8.9px;transform:scaleX(1.0637);">Little is known about the adoption of finerenone in clinical practice.</div>
<div class="t" style="left:15.9px;top:234.2px;font-size:8.9px;transform:scaleX(0.9636);"><b>Data sources</b>:</div>
<div class="t" style="left:15.9px;top:246.2px;font-size:8.9px;transform:scaleX(1.0421);">Electronic health record data from three regional US health systems</div>
<div class="t" style="left:15.9px;top:262.2px;font-size:8.9px;transform:scaleX(0.9953);"><b>Population</b>:</div>
<div class="t" style="left:15.9px;top:274.2px;font-size:8.9px;transform:scaleX(1.0442);">Patients with diagnosed diabetes</div>
<div class="t" style="left:15.9px;top:287.2px;font-size:8.9px;transform:scaleX(0.9918);"><b>Outcome</b>:</div>
<div class="t" style="left:15.9px;top:299.2px;font-size:8.9px;transform:scaleX(1.0462);">New prescription of finerenone&nbsp; between July 9, 2021 (FDA approval) up to</div>
<div class="t" style="left:15.9px;top:311.2px;font-size:8.9px;transform:scaleX(1.0275);">December 31, 2024</div>
<div class="t" style="left:15.9px;top:323.2px;font-size:8.9px;transform:scaleX(0.9872);"><b>Analytical approach</b>:</div>
<div class="t" style="left:27.1px;top:335.2px;font-size:8.9px;transform:scaleX(1.0437);">Trend of new finerenone users: negative binomial regression models</div>
<div class="t" style="left:27.1px;top:347.2px;font-size:8.9px;transform:scaleX(1.0619);">Factors associated with finerenone initiation: multivariable logistic</div>
<div class="t" style="left:27.1px;top:359.2px;font-size:8.9px;transform:scaleX(1.0434);">regression within each system and pool the results using random-effects</div>
<div class="t" style="left:27.1px;top:371.2px;font-size:8.9px;transform:scaleX(1.0210);">meta-analysis</div>
<div class="t" style="left:27.1px;top:384.2px;font-size:8.9px;transform:scaleX(1.0054);">Compare the baseline CVD and CKD progression risk (i.e., KDIGO risk</div>
<div class="t" style="left:27.1px;top:395.2px;font-size:8.9px;transform:scaleX(1.0466);">categories) across patients initiating different medication classes</div>
<div class="t" style="left:27.1px;top:408.2px;font-size:8.9px;transform:scaleX(0.9779);">(finerenone, GLP-1RA, SGLT2i, RASi, s-MRA)</div>
<div class="t" style="left:7.5px;top:450.2px;font-size:9.7px;font-weight:bold;color:#000;transform:scaleX(0.9013);">Table 1. The baseline characteristics of new finerenone users</div>
<div class="t" style="left:124.8px;top:468.2px;font-size:6.3px;font-weight:bold;color:#d3ddef;">System 1 (N=717)</div>
<div class="t" style="left:195.4px;top:468.2px;font-size:6.3px;font-weight:bold;color:#d3ddef;">System 2 (N=157)</div>
<div class="t" style="left:267.9px;top:468.2px;font-size:6.3px;font-weight:bold;color:#d3ddef;">System 3 (N=57)</div>
<div class="t" style="left:7.2px;top:477.2px;font-size:6.6px;font-weight:bold;color:#000;transform:scaleX(0.9600);">Age, mean (SD)</div>
<div class="t" style="left:135.0px;top:477.2px;font-size:6.6px;color:#111;transform:scaleX(1.0300);">69.2 (11.4)</div>
<div class="t" style="left:205.6px;top:477.2px;font-size:6.6px;color:#111;transform:scaleX(1.0300);">67.3 (11.2)</div>
<div class="t" style="left:276.1px;top:477.2px;font-size:6.6px;color:#111;transform:scaleX(1.0300);">66.3 (11.3)</div>
<div class="t" style="left:7.2px;top:487.2px;font-size:6.6px;font-weight:bold;color:#000;transform:scaleX(0.9600);">Female,&nbsp; n (%)</div>
<div class="t" style="left:132.7px;top:487.2px;font-size:6.6px;color:#111;transform:scaleX(1.0300);">281 (39.2%)</div>
<div class="t" style="left:205.2px;top:487.2px;font-size:6.6px;color:#111;transform:scaleX(1.0300);">65 (41.4%)</div>
<div class="t" style="left:275.7px;top:487.2px;font-size:6.6px;color:#111;transform:scaleX(1.0300);">24 (42.1%)</div>
<div class="t" style="left:7.2px;top:496.2px;font-size:6.6px;font-weight:bold;color:#000;transform:scaleX(0.9600);">White, n (%)</div>
<div class="t" style="left:132.7px;top:496.2px;font-size:6.6px;color:#111;transform:scaleX(1.0300);">346 (48.3%)</div>
<div class="t" style="left:203.3px;top:496.2px;font-size:6.6px;color:#111;transform:scaleX(1.0300);">138 (87.9%)</div>
<div class="t" style="left:275.7px;top:496.2px;font-size:6.6px;color:#111;transform:scaleX(1.0300);">23 (40.4%)</div>
<div class="t" style="left:7.2px;top:506.2px;font-size:6.6px;font-weight:bold;color:#000;transform:scaleX(0.9600);">Comorbidities, n(%)</div>
<div class="t" style="left:10.3px;top:515.2px;font-size:6.6px;color:#333;transform:scaleX(1.0400);">Hypertension</div>
<div class="t" style="left:132.7px;top:515.2px;font-size:6.6px;color:#111;transform:scaleX(1.0300);">680 (94.8%)</div>
<div class="t" style="left:203.3px;top:515.2px;font-size:6.6px;color:#111;transform:scaleX(1.0300);">136 (86.6%)</div>
<div class="t" style="left:273.8px;top:515.2px;font-size:6.6px;color:#111;transform:scaleX(1.0300);">57 (100.0%)</div>
<div class="t" style="left:10.3px;top:525.2px;font-size:6.6px;color:#333;transform:scaleX(1.0400);">Heart Failure</div>
<div class="t" style="left:132.7px;top:525.2px;font-size:6.6px;color:#111;transform:scaleX(1.0300);">124 (17.3%)</div>
<div class="t" style="left:205.2px;top:525.2px;font-size:6.6px;color:#111;transform:scaleX(1.0300);">28 (17.8%)</div>
<div class="t" style="left:275.7px;top:525.2px;font-size:6.6px;color:#111;transform:scaleX(1.0300);">10 (17.5%)</div>
<div class="t" style="left:10.3px;top:535.2px;font-size:6.6px;color:#333;transform:scaleX(1.0400);">CKD</div>
<div class="t" style="left:132.7px;top:535.2px;font-size:6.6px;color:#111;transform:scaleX(1.0300);">578 (80.6%)</div>
<div class="t" style="left:203.3px;top:535.2px;font-size:6.6px;color:#111;transform:scaleX(1.0300);">121 (95.3%)</div>
<div class="t" style="left:275.7px;top:535.2px;font-size:6.6px;color:#111;transform:scaleX(1.0300);">54 (96.4%)</div>
<div class="t" style="left:7.2px;top:544.2px;font-size:6.6px;font-weight:bold;color:#000;transform:scaleX(0.9600);">Concomitant medications, n (%)</div>
<div class="t" style="left:10.3px;top:554.2px;font-size:6.6px;color:#333;transform:scaleX(1.0400);">RAS inhibitor</div>
<div class="t" style="left:132.7px;top:554.2px;font-size:6.6px;color:#111;transform:scaleX(1.0300);">444 (61.9%)</div>
<div class="t" style="left:203.3px;top:554.2px;font-size:6.6px;color:#111;transform:scaleX(1.0300);">109 (69.4%)</div>
<div class="t" style="left:275.7px;top:554.2px;font-size:6.6px;color:#111;transform:scaleX(1.0300);">40 (70.2%)</div>
<div class="t" style="left:10.3px;top:563.2px;font-size:6.6px;color:#333;transform:scaleX(1.0400);">GLP-1RA</div>
<div class="t" style="left:132.7px;top:563.2px;font-size:6.6px;color:#111;transform:scaleX(1.0300);">213 (29.7%)</div>
<div class="t" style="left:205.2px;top:563.2px;font-size:6.6px;color:#111;transform:scaleX(1.0300);">55 (35.0%)</div>
<div class="t" style="left:275.7px;top:563.2px;font-size:6.6px;color:#111;transform:scaleX(1.0300);">21 (36.8%)</div>
<div class="t" style="left:10.3px;top:573.2px;font-size:6.6px;color:#333;transform:scaleX(1.0400);">SGLT2 inhibitor</div>
<div class="t" style="left:132.7px;top:573.2px;font-size:6.6px;color:#111;transform:scaleX(1.0300);">331 (46.2%)</div>
<div class="t" style="left:205.2px;top:573.2px;font-size:6.6px;color:#111;transform:scaleX(1.0300);">68 (43.3%)</div>
<div class="t" style="left:275.7px;top:573.2px;font-size:6.6px;color:#111;transform:scaleX(1.0300);">28 (49.1%)</div>
<div class="t" style="left:7.2px;top:582.2px;font-size:6.6px;font-weight:bold;color:#000;transform:scaleX(0.9600);">ACR (mg/g), median (IQI)</div>
<div class="t" style="left:131.8px;top:582.2px;font-size:6.6px;color:#111;transform:scaleX(1.0300);">237 (58-846)</div>
<div class="t" style="left:202.4px;top:582.2px;font-size:6.6px;color:#111;transform:scaleX(1.0300);">157 (42-733)</div>
<div class="t" style="left:269.1px;top:582.2px;font-size:6.6px;color:#111;transform:scaleX(1.0300);">591 (134-1316)</div>
<div class="t" style="left:15.6px;top:592.2px;font-size:6.6px;color:#333;transform:scaleX(1.0400);">&lt;300</div>
<div class="t" style="left:132.7px;top:592.2px;font-size:6.6px;color:#111;transform:scaleX(1.0300);">252 (35.1%)</div>
<div class="t" style="left:205.2px;top:592.2px;font-size:6.6px;color:#111;transform:scaleX(1.0300);">63 (40.1%)</div>
<div class="t" style="left:275.7px;top:592.2px;font-size:6.6px;color:#111;transform:scaleX(1.0300);">17 (29.8%)</div>
<div class="t" style="left:15.6px;top:602.2px;font-size:6.6px;color:#333;transform:scaleX(1.0400);">≥300</div>
<div class="t" style="left:132.7px;top:602.2px;font-size:6.6px;color:#111;transform:scaleX(1.0300);">219 (30.6%)</div>
<div class="t" style="left:205.2px;top:602.2px;font-size:6.6px;color:#111;transform:scaleX(1.0300);">44 (28.0%)</div>
<div class="t" style="left:275.7px;top:602.2px;font-size:6.6px;color:#111;transform:scaleX(1.0300);">35 (61.4%)</div>
<div class="t" style="left:15.6px;top:611.2px;font-size:6.6px;color:#333;transform:scaleX(1.0400);">Missing</div>
<div class="t" style="left:132.7px;top:611.2px;font-size:6.6px;color:#111;transform:scaleX(1.0300);">246 (34.3%)</div>
<div class="t" style="left:205.2px;top:611.2px;font-size:6.6px;color:#111;transform:scaleX(1.0300);">50 (31.9%)</div>
<div class="t" style="left:279.5px;top:611.2px;font-size:6.6px;color:#111;transform:scaleX(1.0300);">5 (8.8%)</div>
<div class="t" style="left:7.2px;top:621.2px;font-size:6.6px;font-weight:bold;color:#000;transform:scaleX(0.9600);">eGFR (ml/min/1.73m<sup>2</sup>), mean (SD)</div>
<div class="t" style="left:134.8px;top:621.2px;font-size:6.6px;color:#111;transform:scaleX(1.0300);">53.0 (23.4)</div>
<div class="t" style="left:205.4px;top:621.2px;font-size:6.6px;color:#111;transform:scaleX(1.0300);">55.7 (24.5)</div>
<div class="t" style="left:275.9px;top:621.2px;font-size:6.6px;color:#111;transform:scaleX(1.0300);">52.3 (20.6)</div>
<div class="t" style="left:15.6px;top:630.2px;font-size:6.6px;color:#333;transform:scaleX(1.0400);">≥60</div>
<div class="t" style="left:132.7px;top:630.2px;font-size:6.6px;color:#111;transform:scaleX(1.0300);">204 (28.5%)</div>
<div class="t" style="left:205.2px;top:630.2px;font-size:6.6px;color:#111;transform:scaleX(1.0300);">47 (29.9%)</div>
<div class="t" style="left:275.7px;top:630.2px;font-size:6.6px;color:#111;transform:scaleX(1.0300);">15 (26.3%)</div>
<div class="t" style="left:15.6px;top:640.2px;font-size:6.6px;color:#333;transform:scaleX(1.0400);">45-59</div>
<div class="t" style="left:132.7px;top:640.2px;font-size:6.6px;color:#111;transform:scaleX(1.0300);">137 (19.1%)</div>
<div class="t" style="left:205.2px;top:640.2px;font-size:6.6px;color:#111;transform:scaleX(1.0300);">29 (18.5%)</div>
<div class="t" style="left:275.7px;top:640.2px;font-size:6.6px;color:#111;transform:scaleX(1.0300);">19 (33.3%)</div>
<div class="t" style="left:15.6px;top:649.2px;font-size:6.6px;color:#333;transform:scaleX(1.0400);">25-44</div>
<div class="t" style="left:132.7px;top:649.2px;font-size:6.6px;color:#111;transform:scaleX(1.0300);">247 (34.4%)</div>
<div class="t" style="left:205.2px;top:649.2px;font-size:6.6px;color:#111;transform:scaleX(1.0300);">55 (35.1%)</div>
<div class="t" style="left:275.7px;top:649.2px;font-size:6.6px;color:#111;transform:scaleX(1.0300);">21 (36.8%)</div>
<div class="t" style="left:15.6px;top:659.2px;font-size:6.6px;color:#333;transform:scaleX(1.0400);">&lt;25</div>
<div class="t" style="left:136.5px;top:659.2px;font-size:6.6px;color:#111;transform:scaleX(1.0300);">46 (6.4%)</div>
<div class="t" style="left:209.0px;top:659.2px;font-size:6.6px;color:#111;transform:scaleX(1.0300);">6 (3.8%)</div>
<div class="t" style="left:279.5px;top:659.2px;font-size:6.6px;color:#111;transform:scaleX(1.0300);">1 (1.8%)</div>
<div class="t" style="left:15.6px;top:669.2px;font-size:6.6px;color:#333;transform:scaleX(1.0400);">Missing</div>
<div class="t" style="left:134.8px;top:669.2px;font-size:6.6px;color:#111;transform:scaleX(1.0300);">83 (11.6%)</div>
<div class="t" style="left:205.2px;top:669.2px;font-size:6.6px;color:#111;transform:scaleX(1.0300);">20 (12.7%)</div>
<div class="t" style="left:279.5px;top:669.2px;font-size:6.6px;color:#111;transform:scaleX(1.0300);">1 (1.8%)</div>
<div class="t" style="left:7.2px;top:678.2px;font-size:6.6px;font-weight:bold;color:#000;transform:scaleX(0.9600);">Potassium (mmol/L)</div>
<div class="t" style="left:138.6px;top:678.2px;font-size:6.6px;color:#111;transform:scaleX(1.0300);">4.5 (0.5)</div>
<div class="t" style="left:209.2px;top:678.2px;font-size:6.6px;color:#111;transform:scaleX(1.0300);">4.5 (0.4)</div>
<div class="t" style="left:279.7px;top:678.2px;font-size:6.6px;color:#111;transform:scaleX(1.0300);">4.4 (0.5)</div>
<div class="t" style="left:7.2px;top:688.2px;font-size:6.6px;font-weight:bold;color:#000;transform:scaleX(0.9600);">SBP (mmHg)</div>
<div class="t" style="left:132.9px;top:688.2px;font-size:6.6px;color:#111;transform:scaleX(1.0300);">133.2 (18.5)</div>
<div class="t" style="left:203.5px;top:688.2px;font-size:6.6px;color:#111;transform:scaleX(1.0300);">135.6 (20.2)</div>
<div class="t" style="left:274.0px;top:688.2px;font-size:6.6px;color:#111;transform:scaleX(1.0300);">134.2 (18.3)</div>
<div class="t n" style="left:629.4px;top:126.2px;font-size:11.8px;font-weight:bold;color:#fff;transform:scaleX(0.8962);">Results</div>
<div class="t" style="left:354.8px;top:146.2px;font-size:9.2px;font-weight:bold;color:#000;transform:scaleX(0.9614);">New finerenone users</div>
<div class="t" style="left:364.5px;top:165.2px;font-size:8.7px;transform:scaleX(1.0526);">0.3% (717/245,763), 0.1% (157/205,194), and 0.04% (57/28,212) across three systems</div>
<div class="t" style="left:364.5px;top:179.2px;font-size:8.7px;transform:scaleX(1.0630);">New users increased over time with per quarter relative increase rates shown in <b>Figure 1</b></div>
<div class="t" style="left:364.5px;top:195.2px;font-size:8.6px;font-weight:bold;color:#000;transform:scaleX(1.0079);">Figure 1. Trend in finerenone new users over time across systems</div>
<div class="t n" style="left:426.7px;top:239.2px;font-size:7.0px;font-weight:bold;color:#111;transform:scaleX(1.0410);">Health system 1</div>
<div class="t n" style="left:426.7px;top:252.2px;font-size:7.0px;font-weight:bold;color:#111;transform:scaleX(1.0410);">Health system 2</div>
<div class="t n" style="left:426.7px;top:265.2px;font-size:7.0px;font-weight:bold;color:#111;transform:scaleX(1.0410);">Health system 3</div>
<div class="t n" style="left:379.8px;top:396.2px;font-size:8.2px;color:#222;">0</div>
<div class="t n" style="left:375.3px;top:335.2px;font-size:8.2px;color:#222;">50</div>
<div class="t n" style="left:370.7px;top:273.2px;font-size:8.2px;color:#222;">100</div>
<div class="t n" style="left:370.7px;top:212.2px;font-size:8.2px;color:#222;">150</div>
<div class="t n" style="left:519.8px;top:430.2px;font-size:9.3px;color:#111;transform:scaleX(1.0394);">Time (Quarter)</div>
<div class="t" style="left:486.3px;top:288.2px;font-size:5.9px;color:#222;-webkit-text-stroke:0.1px;transform:scaleX(1.0790);">15.6% (95% CI: 10.3% - 21.0%)</div>
<div class="t" style="left:521.0px;top:352.2px;font-size:5.9px;color:#222;-webkit-text-stroke:0.1px;transform:scaleX(1.0461);">19.2% (8.5% - 30.9%)</div>
<div class="t" style="left:634.2px;top:383.2px;font-size:5.9px;color:#222;-webkit-text-stroke:0.1px;transform:scaleX(1.0774);">15.9% (6.8% - 25.7%)</div>
<div class="t" style="left:364.8px;top:450.2px;font-size:8.6px;font-weight:bold;color:#000;transform:scaleX(1.0093);">Figure 3. The baseline risk across patients initiating different medication classes</div>
<div class="t n" style="left:410.5px;top:671.2px;font-size:6.4px;color:#111;transform:scaleX(1.1000);">3.5</div>
<div class="t n" style="left:408.6px;top:649.2px;font-size:6.4px;color:#111;transform:scaleX(1.1000);">18.2</div>
<div class="t n" style="left:408.6px;top:599.2px;font-size:6.4px;color:#111;transform:scaleX(1.1000);">28.7</div>
<div class="t n" style="left:408.6px;top:517.2px;font-size:6.4px;color:#111;transform:scaleX(1.1000);">49.6</div>
<div class="t n" style="left:393.7px;top:682.2px;font-size:8.6px;color:#222;">Finerenone</div>
<div class="t n" style="left:400.5px;top:691.2px;font-size:8.6px;color:#222;">(n=655)</div>
<div class="t n" style="left:454.6px;top:615.2px;font-size:6.4px;color:#111;transform:scaleX(1.1000);">57.2</div>
<div class="t n" style="left:454.6px;top:530.2px;font-size:6.4px;color:#111;transform:scaleX(1.1000);">24.5</div>
<div class="t n" style="left:456.6px;top:494.2px;font-size:6.4px;color:#111;transform:scaleX(1.1000);">9.6</div>
<div class="t n" style="left:456.6px;top:475.2px;font-size:6.4px;color:#111;transform:scaleX(1.1000);">8.7</div>
<div class="t n" style="left:443.1px;top:682.2px;font-size:8.6px;color:#222;">GLP-1RA</div>
<div class="t n" style="left:440.5px;top:691.2px;font-size:8.6px;color:#222;">(n=32,414)</div>
<div class="t n" style="left:500.7px;top:627.2px;font-size:6.4px;color:#111;transform:scaleX(1.1000);">45.6</div>
<div class="t n" style="left:500.7px;top:552.2px;font-size:6.4px;color:#111;transform:scaleX(1.1000);">26.1</div>
<div class="t n" style="left:500.7px;top:510.2px;font-size:6.4px;color:#111;transform:scaleX(1.1000);">14.1</div>
<div class="t n" style="left:500.7px;top:480.2px;font-size:6.4px;color:#111;transform:scaleX(1.1000);">14.2</div>
<div class="t n" style="left:493.2px;top:682.2px;font-size:8.6px;color:#222;">SGLT2i</div>
<div class="t n" style="left:486.6px;top:691.2px;font-size:8.6px;color:#222;">(n=44,149)</div>
<div class="t n" style="left:546.7px;top:624.2px;font-size:6.4px;color:#111;transform:scaleX(1.1000);">48.6</div>
<div class="t n" style="left:546.7px;top:545.2px;font-size:6.4px;color:#111;transform:scaleX(1.1000);">27.0</div>
<div class="t n" style="left:547.0px;top:504.2px;font-size:6.4px;color:#111;transform:scaleX(1.1000);">11.8</div>
<div class="t n" style="left:546.7px;top:479.2px;font-size:6.4px;color:#111;transform:scaleX(1.1000);">12.6</div>
<div class="t n" style="left:543.8px;top:682.2px;font-size:8.6px;color:#222;">RASi</div>
<div class="t n" style="left:532.6px;top:691.2px;font-size:8.6px;color:#222;">(n=35,267)</div>
<div class="t n" style="left:592.8px;top:639.2px;font-size:6.4px;color:#111;transform:scaleX(1.1000);">34.6</div>
<div class="t n" style="left:592.8px;top:574.2px;font-size:6.4px;color:#111;transform:scaleX(1.1000);">27.5</div>
<div class="t n" style="left:592.8px;top:526.2px;font-size:6.4px;color:#111;transform:scaleX(1.1000);">17.9</div>
<div class="t n" style="left:592.8px;top:486.2px;font-size:6.4px;color:#111;transform:scaleX(1.1000);">20.0</div>
<div class="t n" style="left:586.5px;top:682.2px;font-size:8.6px;color:#222;">s-MRA</div>
<div class="t n" style="left:581.1px;top:691.2px;font-size:8.6px;color:#222;">(n=7,591)</div>
<div class="t n" style="left:378.7px;top:674.2px;font-size:8.7px;color:#222;">0</div>
<div class="t n" style="left:373.8px;top:632.2px;font-size:8.7px;color:#222;">20</div>
<div class="t n" style="left:373.8px;top:590.2px;font-size:8.7px;color:#222;">40</div>
<div class="t n" style="left:373.8px;top:548.2px;font-size:8.7px;color:#222;">60</div>
<div class="t n" style="left:373.8px;top:506.2px;font-size:8.7px;color:#222;">80</div>
<div class="t n" style="left:369.0px;top:465.2px;font-size:8.7px;color:#222;">100</div>
<div class="t n" style="left:654.5px;top:546.2px;font-size:8.3px;color:#222;">Very high risk</div>
<div class="t n" style="left:654.5px;top:559.2px;font-size:8.3px;color:#222;">High risk</div>
<div class="t n" style="left:654.5px;top:571.2px;font-size:8.3px;color:#222;">Moderate risk</div>
<div class="t n" style="left:654.5px;top:583.2px;font-size:8.3px;color:#222;">Low risk</div>
<div class="t" style="left:629.5px;top:626.2px;font-size:6.5px;color:#111;-webkit-text-stroke:0.2px;transform:scaleX(0.9500);">categories</div>
<div class="t" style="left:739.9px;top:151.2px;font-size:8.9px;font-weight:bold;color:#000;">Finerenone initiation in eligible patients</div>
<div class="t" style="left:751.3px;top:168.2px;font-size:9.1px;transform:scaleX(1.0194);">Overall, only 0.6% of patients recommended</div>
<div class="t" style="left:751.3px;top:180.2px;font-size:9.1px;transform:scaleX(1.0288);">to initiate finerenone (N=91,084) received a</div>
<div class="t" style="left:751.3px;top:192.2px;font-size:9.1px;transform:scaleX(1.0395);">finerenone prescription.</div>
<div class="t" style="left:751.3px;top:208.2px;font-size:9.1px;transform:scaleX(1.0147);">Factors negatively associated with finerenone</div>
<div class="t" style="left:751.3px;top:220.2px;font-size:9.1px;transform:scaleX(1.0290);">initiation: older age, female sex, comorbid</div>
<div class="t" style="left:751.3px;top:233.2px;font-size:9.1px;transform:scaleX(0.9914);">heart failure (<b>Figure 2</b>).</div>
<div class="t" style="left:751.3px;top:249.2px;font-size:9.1px;transform:scaleX(1.0180);">Factors positively associated with finerenone</div>
<div class="t" style="left:751.3px;top:261.2px;font-size:9.1px;transform:scaleX(1.0163);">initiation: non-White race, use of GDMT (RASi,</div>
<div class="t" style="left:751.3px;top:273.2px;font-size:9.1px;transform:scaleX(0.9539);">GLP-1RA or SGLT2i), lower eGFR and ACR ≥300</div>
<div class="t" style="left:751.3px;top:286.2px;font-size:9.1px;transform:scaleX(0.9637);">mg/g (<b>Figure 2</b>).</div>
<div class="t" style="left:740.9px;top:302.2px;font-size:8.9px;font-weight:bold;color:#000;transform:scaleX(0.9557);">Baseline risk of CVD and CKD progression</div>
<div class="t" style="left:751.3px;top:319.2px;font-size:9.1px;transform:scaleX(1.0280);">Finerenone initiators were at much higher</div>
<div class="t" style="left:751.3px;top:331.2px;font-size:9.1px;transform:scaleX(0.9861);">baseline risk of CVD and CKD progression than</div>
<div class="t" style="left:751.3px;top:343.2px;font-size:9.1px;transform:scaleX(1.0312);">other medication users, with consistent</div>
<div class="t" style="left:751.3px;top:355.2px;font-size:9.1px;">patterns across health systems.</div>
<div class="t" style="left:753.9px;top:371.2px;font-size:9.1px;transform:scaleX(1.0055);">Initiators at high and very high risk (<b>Figure 3</b>):</div>
<div class="t" style="left:759.3px;top:384.2px;font-size:9.1px;transform:scaleX(0.9953);">Finerenone: 78.3%</div>
<div class="t" style="left:759.3px;top:398.2px;font-size:9.1px;transform:scaleX(0.9374);">GLP-1RA: 18.3%</div>
<div class="t" style="left:759.3px;top:411.2px;font-size:9.1px;transform:scaleX(0.9230);">SGLT2i: 28.3%</div>
<div class="t" style="left:759.3px;top:425.2px;font-size:9.1px;transform:scaleX(0.9309);">RASi: 24.4%</div>
<div class="t" style="left:759.3px;top:437.2px;font-size:9.1px;transform:scaleX(0.9578);">S-MRA: 37.9%</div>
<div class="t n" style="left:782.8px;top:455.2px;font-size:12.2px;font-weight:bold;color:#fff;transform:scaleX(0.9259);">Strengths/Limitations</div>
<div class="t" style="left:750.8px;top:477.2px;font-size:9.299999999999999px;transform:scaleX(0.9842);">Enhanced generalizability by leveraging data</div>
<div class="t" style="left:750.8px;top:489.2px;font-size:9.299999999999999px;">from three regional health systems covering</div>
<div class="t" style="left:750.8px;top:501.2px;font-size:9.299999999999999px;">diverse populations.</div>
<div class="t" style="left:752.6px;top:517.2px;font-size:9.299999999999999px;transform:scaleX(1.0108);">The reasons for prescribing or not prescribing</div>
<div class="t" style="left:752.6px;top:529.2px;font-size:9.299999999999999px;transform:scaleX(1.0178);">finerenone were unknown.</div>
<div class="t n" style="left:808.9px;top:545.2px;font-size:12.2px;font-weight:bold;color:#fff;transform:scaleX(0.8723);">Conclusions</div>
<div class="t" style="left:750.8px;top:563.2px;font-size:9.299999999999999px;transform:scaleX(0.9954);">Finerenone prescription was low across three</div>
<div class="t" style="left:750.8px;top:575.2px;font-size:9.299999999999999px;transform:scaleX(1.0081);">health systems but targeted towards patients</div>
<div class="t" style="left:750.8px;top:588.2px;font-size:9.299999999999999px;transform:scaleX(0.9766);">with higher risk of CVD and CKD progression.</div>
<div class="t" style="left:750.8px;top:605.2px;font-size:9.299999999999999px;transform:scaleX(0.9846);">Improving access and accumulating evidence</div>
<div class="t" style="left:750.8px;top:618.2px;font-size:9.299999999999999px;transform:scaleX(1.0098);">supporting favorable risk-benefit ratios may</div>
<div class="t" style="left:750.8px;top:630.2px;font-size:9.299999999999999px;transform:scaleX(1.0125);">increase the adoption of finerenone.</div>
<div class="t n" style="left:739.9px;top:664.2px;font-size:5.3px;font-weight:bold;color:#111;">Abbreviations:</div>
<div class="t" style="left:739.9px;top:700.2px;font-size:5.5px;color:#111;-webkit-text-stroke:0.15px;transform:scaleX(1.0584);">cotransporter-2 inhibitors</div>
<div class="t" style="left:953.8px;top:120.2px;font-size:9.0px;font-weight:bold;color:#000;transform:scaleX(0.9777);">Figure 2. Factors associated with finerenone initiation among</div>
<div class="t" style="left:953.8px;top:132.2px;font-size:9.0px;font-weight:bold;color:#000;transform:scaleX(0.9834);">finerenone eligible patients</div>
<div class="t n" style="left:953.8px;top:145.2px;font-size:6.6px;font-weight:bold;color:#222;">Variable</div>
<div class="t n" style="left:1027.4px;top:145.2px;font-size:6.6px;font-weight:bold;color:#222;">System</div>
<div class="t n" style="left:1127.0px;top:145.2px;font-size:6.6px;font-weight:bold;color:#222;">aOR (95% CI)</div>
<div class="t n" style="left:1186.3px;top:145.2px;font-size:6.6px;font-weight:bold;color:#222;">Weight</div>
<div class="t n" style="left:953.8px;top:157.2px;font-size:6.6px;color:#222;">Age (10 yrs)</div>
<div class="t n" style="left:1027.4px;top:157.2px;font-size:6.6px;color:#222;">system 1</div>
<div class="t n" style="left:1127.0px;top:157.2px;font-size:6.6px;color:#222;">0.88 (0.80, 0.96)</div>
<div class="t n" style="left:1186.3px;top:157.2px;font-size:6.6px;color:#222;">70.10%</div>
<div class="t n" style="left:1027.4px;top:168.2px;font-size:6.6px;color:#222;">system 2</div>
<div class="t n" style="left:1127.0px;top:168.2px;font-size:6.6px;color:#222;">0.95 (0.80, 1.13)</div>
<div class="t n" style="left:1186.3px;top:168.2px;font-size:6.6px;color:#222;">19.10%</div>
<div class="t n" style="left:1027.4px;top:179.2px;font-size:6.6px;color:#222;">system 3</div>
<div class="t n" style="left:1127.0px;top:179.2px;font-size:6.6px;color:#222;">0.95 (0.75, 1.19)</div>
<div class="t n" style="left:1186.3px;top:179.2px;font-size:6.6px;color:#222;">10.80%</div>
<div class="t n" style="left:1027.4px;top:189.2px;font-size:7.2px;font-weight:bold;color:#111;">Total</div>
<div class="t n" style="left:1127.0px;top:189.2px;font-size:7.2px;font-weight:bold;color:#111;">0.90 (0.84, 0.97)</div>
<div class="t n" style="left:1186.3px;top:189.2px;font-size:7.2px;font-weight:bold;color:#111;">100.00%</div>
<div class="t n" style="left:953.8px;top:201.2px;font-size:6.6px;color:#222;">Female</div>
<div class="t n" style="left:1027.4px;top:201.2px;font-size:6.6px;color:#222;">system 1</div>
<div class="t n" style="left:1127.0px;top:201.2px;font-size:6.6px;color:#222;">0.70 (0.56, 0.87)</div>
<div class="t n" style="left:1186.3px;top:201.2px;font-size:6.6px;color:#222;">70.90%</div>
<div class="t n" style="left:1027.4px;top:212.2px;font-size:6.6px;color:#222;">system 2</div>
<div class="t n" style="left:1127.0px;top:212.2px;font-size:6.6px;color:#222;">0.82 (0.54, 1.25)</div>
<div class="t n" style="left:1186.3px;top:212.2px;font-size:6.6px;color:#222;">19.70%</div>
<div class="t n" style="left:1027.4px;top:223.2px;font-size:6.6px;color:#222;">system 3</div>
<div class="t n" style="left:1127.0px;top:223.2px;font-size:6.6px;color:#222;">0.77 (0.42, 1.41)</div>
<div class="t n" style="left:1186.3px;top:223.2px;font-size:6.6px;color:#222;">9.40%</div>
<div class="t n" style="left:1027.4px;top:233.2px;font-size:7.2px;font-weight:bold;color:#111;">Total</div>
<div class="t n" style="left:1127.0px;top:233.2px;font-size:7.2px;font-weight:bold;color:#111;">0.73 (0.61, 0.88)</div>
<div class="t n" style="left:1186.3px;top:233.2px;font-size:7.2px;font-weight:bold;color:#111;">100.00%</div>
<div class="t n" style="left:953.8px;top:245.2px;font-size:6.6px;color:#222;">Non White</div>
<div class="t n" style="left:1027.4px;top:245.2px;font-size:6.6px;color:#222;">system 1</div>
<div class="t n" style="left:1127.0px;top:245.2px;font-size:6.6px;color:#222;">1.21 (0.98, 1.49)</div>
<div class="t n" style="left:1186.3px;top:245.2px;font-size:6.6px;color:#222;">83.10%</div>
<div class="t n" style="left:1027.4px;top:256.2px;font-size:6.6px;color:#222;">system 2</div>
<div class="t n" style="left:1127.0px;top:256.2px;font-size:6.6px;color:#222;">1.34 (0.70, 2.57)</div>
<div class="t n" style="left:1186.3px;top:256.2px;font-size:6.6px;color:#222;">8.60%</div>
<div class="t n" style="left:1027.4px;top:267.2px;font-size:6.6px;color:#222;">system 3</div>
<div class="t n" style="left:1127.0px;top:267.2px;font-size:6.6px;color:#222;">1.53 (0.81, 2.88)</div>
<div class="t n" style="left:1186.3px;top:267.2px;font-size:6.6px;color:#222;">8.30%</div>
<div class="t n" style="left:1027.4px;top:277.2px;font-size:7.2px;font-weight:bold;color:#111;">Total</div>
<div class="t n" style="left:1127.0px;top:277.2px;font-size:7.2px;font-weight:bold;color:#111;">1.26 (1.04, 1.52)</div>
<div class="t n" style="left:1186.3px;top:277.2px;font-size:7.2px;font-weight:bold;color:#111;">100.00%</div>
<div class="t n" style="left:953.8px;top:289.2px;font-size:6.6px;color:#222;">Heart Failure</div>
<div class="t n" style="left:1027.4px;top:289.2px;font-size:6.6px;color:#222;">system 1</div>
<div class="t n" style="left:1127.0px;top:289.2px;font-size:6.6px;color:#222;">0.69 (0.50, 0.95)</div>
<div class="t n" style="left:1186.3px;top:289.2px;font-size:6.6px;color:#222;">73.80%</div>
<div class="t n" style="left:1027.4px;top:300.2px;font-size:6.6px;color:#222;">system 2</div>
<div class="t n" style="left:1127.0px;top:300.2px;font-size:6.6px;color:#222;">0.53 (0.29, 1.00)</div>
<div class="t n" style="left:1186.3px;top:300.2px;font-size:6.6px;color:#222;">19.40%</div>
<div class="t n" style="left:1027.4px;top:311.2px;font-size:6.6px;color:#222;">system 3</div>
<div class="t n" style="left:1127.0px;top:311.2px;font-size:6.6px;color:#222;">0.43 (0.18, 1.05)</div>
<div class="t n" style="left:1186.3px;top:311.2px;font-size:6.6px;color:#222;">6.90%</div>
<div class="t n" style="left:1027.4px;top:321.2px;font-size:7.2px;font-weight:bold;color:#111;">Total</div>
<div class="t n" style="left:1127.0px;top:321.2px;font-size:7.2px;font-weight:bold;color:#111;">0.63 (0.42, 0.86)</div>
<div class="t n" style="left:1186.3px;top:321.2px;font-size:7.2px;font-weight:bold;color:#111;">100.00%</div>
<div class="t n" style="left:953.8px;top:333.2px;font-size:6.6px;color:#222;">1 GDMT</div>
<div class="t n" style="left:1027.4px;top:333.2px;font-size:6.6px;color:#222;">system 1</div>
<div class="t n" style="left:1127.0px;top:333.2px;font-size:6.6px;color:#222;">1.80 (1.33, 2.44)</div>
<div class="t n" style="left:1186.3px;top:333.2px;font-size:6.6px;color:#222;">68.00%</div>
<div class="t n" style="left:1027.4px;top:344.2px;font-size:6.6px;color:#222;">system 2</div>
<div class="t n" style="left:1127.0px;top:344.2px;font-size:6.6px;color:#222;">1.24 (0.71, 2.17)</div>
<div class="t n" style="left:1186.3px;top:344.2px;font-size:6.6px;color:#222;">20.40%</div>
<div class="t n" style="left:1027.4px;top:355.2px;font-size:6.6px;color:#222;">system 3</div>
<div class="t n" style="left:1127.0px;top:355.2px;font-size:6.6px;color:#222;">1.50 (0.72, 3.14)</div>
<div class="t n" style="left:1186.3px;top:355.2px;font-size:6.6px;color:#222;">11.60%</div>
<div class="t n" style="left:1027.4px;top:365.2px;font-size:7.2px;font-weight:bold;color:#111;">Total</div>
<div class="t n" style="left:1127.0px;top:365.2px;font-size:7.2px;font-weight:bold;color:#111;">1.66 (1.29, 2.13)</div>
<div class="t n" style="left:1186.3px;top:365.2px;font-size:7.2px;font-weight:bold;color:#111;">100.00%</div>
<div class="t n" style="left:953.8px;top:376.2px;font-size:6.6px;color:#222;">≥2 GDMTs</div>
<div class="t n" style="left:1027.4px;top:376.2px;font-size:6.6px;color:#222;">system 1</div>
<div class="t n" style="left:1127.0px;top:376.2px;font-size:6.6px;color:#222;">3.87 (2.86, 5.24)</div>
<div class="t n" style="left:1186.3px;top:376.2px;font-size:6.6px;color:#222;">68.70%</div>
<div class="t n" style="left:1027.4px;top:387.2px;font-size:6.6px;color:#222;">system 2</div>
<div class="t n" style="left:1127.0px;top:387.2px;font-size:6.6px;color:#222;">3.69 (2.12, 6.42)</div>
<div class="t n" style="left:1186.3px;top:387.2px;font-size:6.6px;color:#222;">20.60%</div>
<div class="t n" style="left:1027.4px;top:398.2px;font-size:6.6px;color:#222;">system 3</div>
<div class="t n" style="left:1127.0px;top:398.2px;font-size:6.6px;color:#222;">3.74 (1.73, 8.08)</div>
<div class="t n" style="left:1186.3px;top:398.2px;font-size:6.6px;color:#222;">10.70%</div>
<div class="t n" style="left:1027.4px;top:409.2px;font-size:7.2px;font-weight:bold;color:#111;">Total</div>
<div class="t n" style="left:1127.0px;top:409.2px;font-size:7.2px;font-weight:bold;color:#111;">3.82 (2.97, 4.91)</div>
<div class="t n" style="left:1186.3px;top:409.2px;font-size:7.2px;font-weight:bold;color:#111;">100.00%</div>
<div class="t n" style="left:953.8px;top:420.2px;font-size:6.6px;color:#222;">eGFR 45-60</div>
<div class="t n" style="left:1027.4px;top:420.2px;font-size:6.6px;color:#222;">system 1</div>
<div class="t n" style="left:1127.0px;top:420.2px;font-size:6.6px;color:#222;">2.72 (2.07, 3.58)</div>
<div class="t n" style="left:1186.3px;top:420.2px;font-size:6.6px;color:#222;">74.80%</div>
<div class="t n" style="left:953.8px;top:431.2px;font-size:6.6px;color:#222;">(vs ≥60ml/min/1.73m2)</div>
<div class="t n" style="left:1027.4px;top:431.2px;font-size:6.6px;color:#222;">system 2</div>
<div class="t n" style="left:1127.0px;top:431.2px;font-size:6.6px;color:#222;">1.40 (0.76, 2.60)</div>
<div class="t n" style="left:1186.3px;top:431.2px;font-size:6.6px;color:#222;">15.20%</div>
<div class="t n" style="left:1027.4px;top:442.2px;font-size:6.6px;color:#222;">system 3</div>
<div class="t n" style="left:1127.0px;top:442.2px;font-size:6.6px;color:#222;">2.52 (1.23, 5.28)</div>
<div class="t n" style="left:1186.3px;top:442.2px;font-size:6.6px;color:#222;">10.10%</div>
<div class="t n" style="left:1027.4px;top:453.2px;font-size:7.2px;font-weight:bold;color:#111;">Total</div>
<div class="t n" style="left:1127.0px;top:453.2px;font-size:7.2px;font-weight:bold;color:#111;">2.30 (1.59, 3.31)</div>
<div class="t n" style="left:1186.3px;top:453.2px;font-size:7.2px;font-weight:bold;color:#111;">100.00%</div>
<div class="t n" style="left:953.8px;top:464.2px;font-size:6.6px;color:#222;">eGFR 25-45</div>
<div class="t n" style="left:1027.4px;top:464.2px;font-size:6.6px;color:#222;">system 1</div>
<div class="t n" style="left:1127.0px;top:464.2px;font-size:6.6px;color:#222;">4.07 (3.11, 5.33)</div>
<div class="t n" style="left:1186.3px;top:464.2px;font-size:6.6px;color:#222;">73.70%</div>
<div class="t n" style="left:953.8px;top:475.2px;font-size:6.6px;color:#222;">(vs ≥60ml/min/1.73m2)</div>
<div class="t n" style="left:1027.4px;top:475.2px;font-size:6.6px;color:#222;">system 2</div>
<div class="t n" style="left:1127.0px;top:475.2px;font-size:6.6px;color:#222;">2.92 (1.70, 5.02)</div>
<div class="t n" style="left:1186.3px;top:475.2px;font-size:6.6px;color:#222;">18.30%</div>
<div class="t n" style="left:1027.4px;top:486.2px;font-size:6.6px;color:#222;">system 3</div>
<div class="t n" style="left:1127.0px;top:486.2px;font-size:6.6px;color:#222;">1.91 (0.85, 4.32)</div>
<div class="t n" style="left:1186.3px;top:486.2px;font-size:6.6px;color:#222;">8.10%</div>
<div class="t n" style="left:1027.4px;top:496.2px;font-size:7.2px;font-weight:bold;color:#111;">Total</div>
<div class="t n" style="left:1127.0px;top:496.2px;font-size:7.2px;font-weight:bold;color:#111;">3.30 (2.24, 4.84)</div>
<div class="t n" style="left:1186.3px;top:496.2px;font-size:7.2px;font-weight:bold;color:#111;">100.00%</div>
<div class="t n" style="left:953.8px;top:508.2px;font-size:6.6px;color:#222;">ACR ≥300mg/g</div>
<div class="t n" style="left:1027.4px;top:508.2px;font-size:6.6px;color:#222;">system 1</div>
<div class="t n" style="left:1127.0px;top:508.2px;font-size:6.6px;color:#222;">2.95 (2.38, 3.66)</div>
<div class="t n" style="left:1186.3px;top:508.2px;font-size:6.6px;color:#222;">74.40%</div>
<div class="t n" style="left:953.8px;top:519.2px;font-size:6.6px;color:#222;">(vs &lt;300mg/g)</div>
<div class="t n" style="left:1027.4px;top:519.2px;font-size:6.6px;color:#222;">system 2</div>
<div class="t n" style="left:1127.0px;top:519.2px;font-size:6.6px;color:#222;">3.45 (2.22, 5.36)</div>
<div class="t n" style="left:1186.3px;top:519.2px;font-size:6.6px;color:#222;">17.70%</div>
<div class="t n" style="left:1027.4px;top:530.2px;font-size:6.6px;color:#222;">system 3</div>
<div class="t n" style="left:1127.0px;top:530.2px;font-size:6.6px;color:#222;">8.81 (4.55, 17.06)</div>
<div class="t n" style="left:1186.3px;top:530.2px;font-size:6.6px;color:#222;">7.90%</div>
<div class="t n" style="left:1027.4px;top:540.2px;font-size:7.2px;font-weight:bold;color:#111;">Total</div>
<div class="t n" style="left:1127.0px;top:540.2px;font-size:7.2px;font-weight:bold;color:#111;">3.91 (2.47, 6.19)</div>
<div class="t n" style="left:1186.3px;top:540.2px;font-size:7.2px;font-weight:bold;color:#111;">100.00%</div>
<div class="t n" style="left:953.8px;top:552.2px;font-size:6.6px;color:#222;">K+ ≥4.8 mmol/L</div>
<div class="t n" style="left:1027.4px;top:552.2px;font-size:6.6px;color:#222;">system 1</div>
<div class="t n" style="left:1127.0px;top:552.2px;font-size:6.6px;color:#222;">0.79 (0.63, 1.00)</div>
<div class="t n" style="left:1186.3px;top:552.2px;font-size:6.6px;color:#222;">74.70%</div>
<div class="t n" style="left:953.8px;top:563.2px;font-size:6.6px;color:#222;">(vs &lt;4.8mmol/L)</div>
<div class="t n" style="left:1027.4px;top:563.2px;font-size:6.6px;color:#222;">system 2</div>
<div class="t n" style="left:1127.0px;top:563.2px;font-size:6.6px;color:#222;">1.33 (0.84, 2.11)</div>
<div class="t n" style="left:1186.3px;top:563.2px;font-size:6.6px;color:#222;">18.90%</div>
<div class="t n" style="left:1027.4px;top:574.2px;font-size:6.6px;color:#222;">system 3</div>
<div class="t n" style="left:1127.0px;top:574.2px;font-size:6.6px;color:#222;">0.75 (0.34, 1.65)</div>
<div class="t n" style="left:1186.3px;top:574.2px;font-size:6.6px;color:#222;">6.40%</div>
<div class="t n" style="left:1027.4px;top:584.2px;font-size:7.2px;font-weight:bold;color:#111;">Total</div>
<div class="t n" style="left:1127.0px;top:584.2px;font-size:7.2px;font-weight:bold;color:#111;">0.93 (0.64, 1.34)</div>
<div class="t n" style="left:1186.3px;top:584.2px;font-size:7.2px;font-weight:bold;color:#111;">100.00%</div>
<div class="t n" style="left:1055.3px;top:597.2px;font-size:7.0px;color:#222;">0.1</div>
<div class="t n" style="left:1086.4px;top:597.2px;font-size:7.0px;color:#222;">1</div>
<div class="t n" style="left:1106.2px;top:597.2px;font-size:7.0px;color:#222;">5</div>
<div class="t n" style="left:1112.8px;top:597.2px;font-size:7.0px;color:#222;">10</div>
<div class="t" style="left:951.2px;top:613.2px;font-size:9.5px;font-weight:bold;color:#1f3b8c;transform:scaleX(0.9247);">Acknowledgements</div>
<div class="t" style="left:961.8px;top:625.2px;font-size:5.7px;color:#222;-webkit-text-stroke:0.1px;transform:scaleX(1.0565);"><b>Disclosure:</b> YF is a previous employee of Bayer. Other authors have nothing to disclose.</div>
<div class="t" style="left:961.8px;top:633.2px;font-size:5.7px;color:#222;-webkit-text-stroke:0.1px;transform:scaleX(1.0681);"><b>Funding:</b> This project is supported by a research grant to Johns Hopkins University from Bayer</div>
<div class="t" style="left:961.8px;top:642.2px;font-size:5.7px;color:#222;-webkit-text-stroke:0.1px;transform:scaleX(1.0763);">(2151597525) and National Institute of Health (R01DK139324 and R01DK115534).</div>
<div class="t" style="left:951.2px;top:649.2px;font-size:9.5px;font-weight:bold;color:#1f3b8c;transform:scaleX(0.8920);">References</div>
<div class="t n" style="left:951.2px;top:662.2px;font-size:4.8px;color:#222;">1.</div>
<div class="t" style="left:963.4px;top:662.2px;font-size:4.8px;color:#222;-webkit-text-stroke:0.1px;transform:scaleX(1.0929);">Rossing P, et al. KDIGO 2022 Clinical Practice Guideline for Diabetes Management in Chronic Kidney Disease.</div>
<div class="t" style="left:963.4px;top:668.2px;font-size:4.8px;color:#222;-webkit-text-stroke:0.1px;transform:scaleX(1.0928);">Kidney International. 2022;102:S1–S127.</div>
<div class="t n" style="left:951.2px;top:674.2px;font-size:4.8px;color:#222;">2.</div>
<div class="t" style="left:963.4px;top:674.2px;font-size:4.8px;color:#222;-webkit-text-stroke:0.1px;transform:scaleX(1.1352);">Pitt B, et al., Cardiovascular Events with Finerenone in Kidney Disease and Type 2 Diabetes. New England</div>
<div class="t" style="left:963.4px;top:680.2px;font-size:4.8px;color:#222;-webkit-text-stroke:0.1px;transform:scaleX(1.1061);">Journal of Medicine 385: 2252–2263, 2021</div>
<div class="t n" style="left:951.2px;top:687.2px;font-size:4.8px;color:#222;">3.</div>
<div class="t" style="left:963.4px;top:687.2px;font-size:4.8px;color:#222;-webkit-text-stroke:0.1px;transform:scaleX(1.1020);">Bakris GL., Effect of Finerenone on Chronic Kidney Disease Outcomes in Type 2 Diabetes. N Engl J Med 383:</div>
<div class="t" style="left:963.4px;top:693.2px;font-size:4.8px;color:#222;-webkit-text-stroke:0.1px;transform:scaleX(1.1135);">2219–2229, 2020</div>
</div>
</body></html>
